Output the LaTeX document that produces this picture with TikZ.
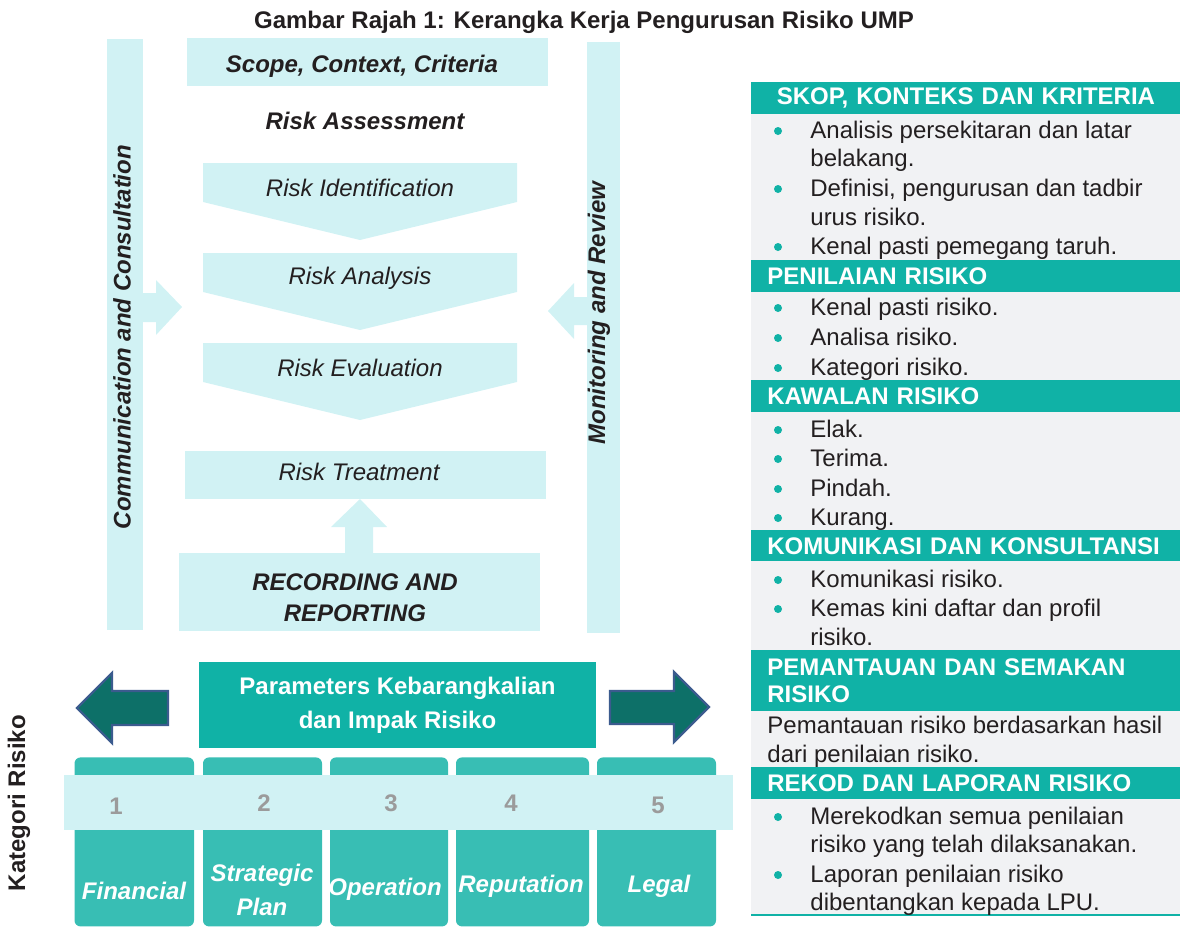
\documentclass[tikz,border=0pt]{standalone}
\usepackage{fontspec}
\setmainfont{Liberation Sans}
\usetikzlibrary{positioning}
\definecolor{palecyan}{HTML}{D1F2F4}
\definecolor{tealhead}{HTML}{10B2A6}
\definecolor{tealcat}{HTML}{38BEB4}
\definecolor{darkteal}{HTML}{0D7068}
\definecolor{arrowblue}{HTML}{3B5B8E}
\definecolor{panelgray}{HTML}{F1F2F4}
\definecolor{numgray}{HTML}{9B9B9B}
\definecolor{ink}{HTML}{231F20}
\newcommand{\fs}{\fontsize{12}{14.4}\selectfont}
\begin{document}
\begin{tikzpicture}[x=0.5pt,y=-0.5pt,
    every node/.style={font=\fs, text=ink, inner sep=0pt},
    sidebar/.style={fill=palecyan, minimum width=18pt, minimum height=295.5pt},
    stagebox/.style={fill=palecyan, minimum width=180.5pt},
    sidetext/.style={rotate=90, font=\fs\bfseries\itshape},
    paneltitle/.style={fill=tealhead, text=white, font=\fs\bfseries, anchor=north west,
        text width=214.5pt, minimum height=16pt, align=left},
    entry/.style={anchor=west, text height=9pt, text depth=3pt},
    catcol/.style={fill=tealcat, rounded corners=3pt, minimum height=84.5pt, anchor=north},
    catname/.style={font=\fontsize{12}{17}\selectfont\bfseries\itshape, text=white, align=center},
    catnum/.style={font=\fs\bfseries, text=numgray},
    bigarrow/.style={fill=darkteal, draw=arrowblue, line width=1.2pt}]
\useasboundingbox (0,0) rectangle (1182,927);

\node[font=\fs\bfseries] (title) at (584,22) {Gambar Rajah 1: Kerangka Kerja Pengurusan Risiko UMP};

% side bars
\node[sidebar] (comm) at (125,334.5) {};
\node[sidetext] (commtext) at (122,337) {Communication and Consultation};
\node[sidebar, minimum width=16.5pt] (monit) at (603.5,337.5) {};
\node[sidetext] (monittext) at (599,313) {Monitoring and Review};
\fill[palecyan] (143,293) -- (156,293) -- (156,280) -- (182,307) -- (156,335) -- (156,322) -- (143,322) -- cycle;
\fill[palecyan] (588,297) -- (574,297) -- (574,283) -- (548,311) -- (574,339) -- (574,325) -- (588,325) -- cycle;

% process
\node[stagebox, minimum height=24pt] (scope) at (367.5,62) {};
\node[font=\fs\bfseries\itshape] (scopetext) at (362,66) {Scope, Context, Criteria};
\node[font=\fs\bfseries\itshape] (assess) at (365,121) {Risk Assessment};
\foreach \ty/\nm/\lab in {163/ident/Risk Identification, 253/analys/Risk Analysis, 343/evalu/Risk Evaluation} {
    \fill[palecyan] (203,\ty) -- (517,\ty) -- (517,\ty+39) -- (360,\ty+77) -- (203,\ty+39) -- cycle;
    \node[font=\fs\itshape] (\nm) at (360,\ty+25) {\lab};
}
\node[stagebox, minimum height=24pt] (treat) at (365.5,475) {};
\node[font=\fs\itshape] (treattext) at (359,472) {Risk Treatment};
\node[stagebox, minimum height=39pt] (record) at (359.5,592) {};
\node[align=center, font=\fontsize{12}{15.5}\selectfont\bfseries\itshape] (recordtext) at (355,598) {RECORDING AND\\REPORTING};
\fill[palecyan] (345,553) -- (345,527) -- (331,527) -- (360,499) -- (387,527) -- (373,527) -- (373,553) -- cycle;

% parameters and categories
\node[fill=tealhead, minimum width=198.5pt, minimum height=43pt, align=center, text=white,
    font=\fontsize{12}{17}\selectfont\bfseries] (param) at (397.5,705) {Parameters Kebarangkalian\\dan Impak Risiko};
\draw[bigarrow] (168,691) -- (112,691) -- (112,673) -- (77,708) -- (112,743) -- (112,725) -- (168,725) -- cycle;
\draw[bigarrow] (610,691) -- (674,691) -- (674,672) -- (709,707) -- (674,742) -- (674,724) -- (610,724) -- cycle;
\foreach \x/\w/\nm in {134.25/59.75/fin, 262.5/59.5/strat, 389/59/oper, 522.5/66.5/repu, 656.5/59.5/legal}
    \node[catcol, minimum width=\w pt] (\nm) at (\x,757) {};
\fill[palecyan] (64,775) rectangle (733,830);
\foreach \x/\y/\n in {116/806/1, 264/803/2, 391/803/3, 511/803/4, 658/805/5}
    \node[catnum] (num\n) at (\x,\y) {\n};
\node[catname] (finname) at (134,891) {Financial};
\node[catname] (stratname) at (262,890) {Strategic\\Plan};
\node[catname] (opername) at (385,889) {Operation};
\node[catname] (repuname) at (521,886) {Reputation};
\node[catname] (legalname) at (659,886) {Legal};
\node[rotate=90, font=\fs\bfseries] (kategori) at (19,803) {Kategori Risiko};

% right panel
\fill[panelgray] (751,114) rectangle (1180,915);
\draw[tealhead, line width=1pt] (751,915) -- (1180,915);
\node[paneltitle, align=center] (skop) at (751,82) {SKOP, KONTEKS DAN KRITERIA};
\node[paneltitle] (nilai) at (751,260) {\hspace*{8pt}PENILAIAN RISIKO};
\node[paneltitle] (kawal) at (751,380) {\hspace*{8pt}KAWALAN RISIKO};
\node[paneltitle, minimum height=15.5pt] (komun) at (751,530) {\hspace*{8pt}KOMUNIKASI DAN KONSULTANSI};
\node[paneltitle, minimum height=30.5pt, font=\fontsize{12}{13.5}\selectfont\bfseries] (pantau) at (751,650)
    {\hspace*{8pt}PEMANTAUAN DAN SEMAKAN\\\hspace*{8pt}RISIKO};
\node[paneltitle] (rekod) at (751,767) {\hspace*{8pt}REKOD DAN LAPORAN RISIKO};
\foreach \y/\b/\t in {130/1/Analisis persekitaran dan latar, 158/0/belakang.,
        188/1/{Definisi, pengurusan dan tadbir}, 217/0/urus risiko., 246/1/Kenal pasti pemegang taruh.,
        307/1/Kenal pasti risiko., 337/1/Analisa risiko., 367/1/Kategori risiko.,
        429/1/Elak., 458/1/Terima., 488/1/Pindah., 517/1/Kurang.,
        579/1/Komunikasi risiko., 608/1/Kemas kini daftar dan profil, 637/0/risiko.,
        816/1/Merekodkan semua penilaian, 844/0/risiko yang telah dilaksanakan.,
        874/1/Laporan penilaian risiko, 902/0/dibentangkan kepada LPU.} {
    \ifnum\b=1 \fill[tealhead] (778,\y+1) circle (2pt); \fi
    \node[entry] (line\y) at (810,\y+2) {\t};
}
\node[entry] (pantau1) at (767,727) {Pemantauan risiko berdasarkan hasil};
\node[entry] (pantau2) at (767,756) {dari penilaian risiko.};
\end{tikzpicture}
\end{document}
